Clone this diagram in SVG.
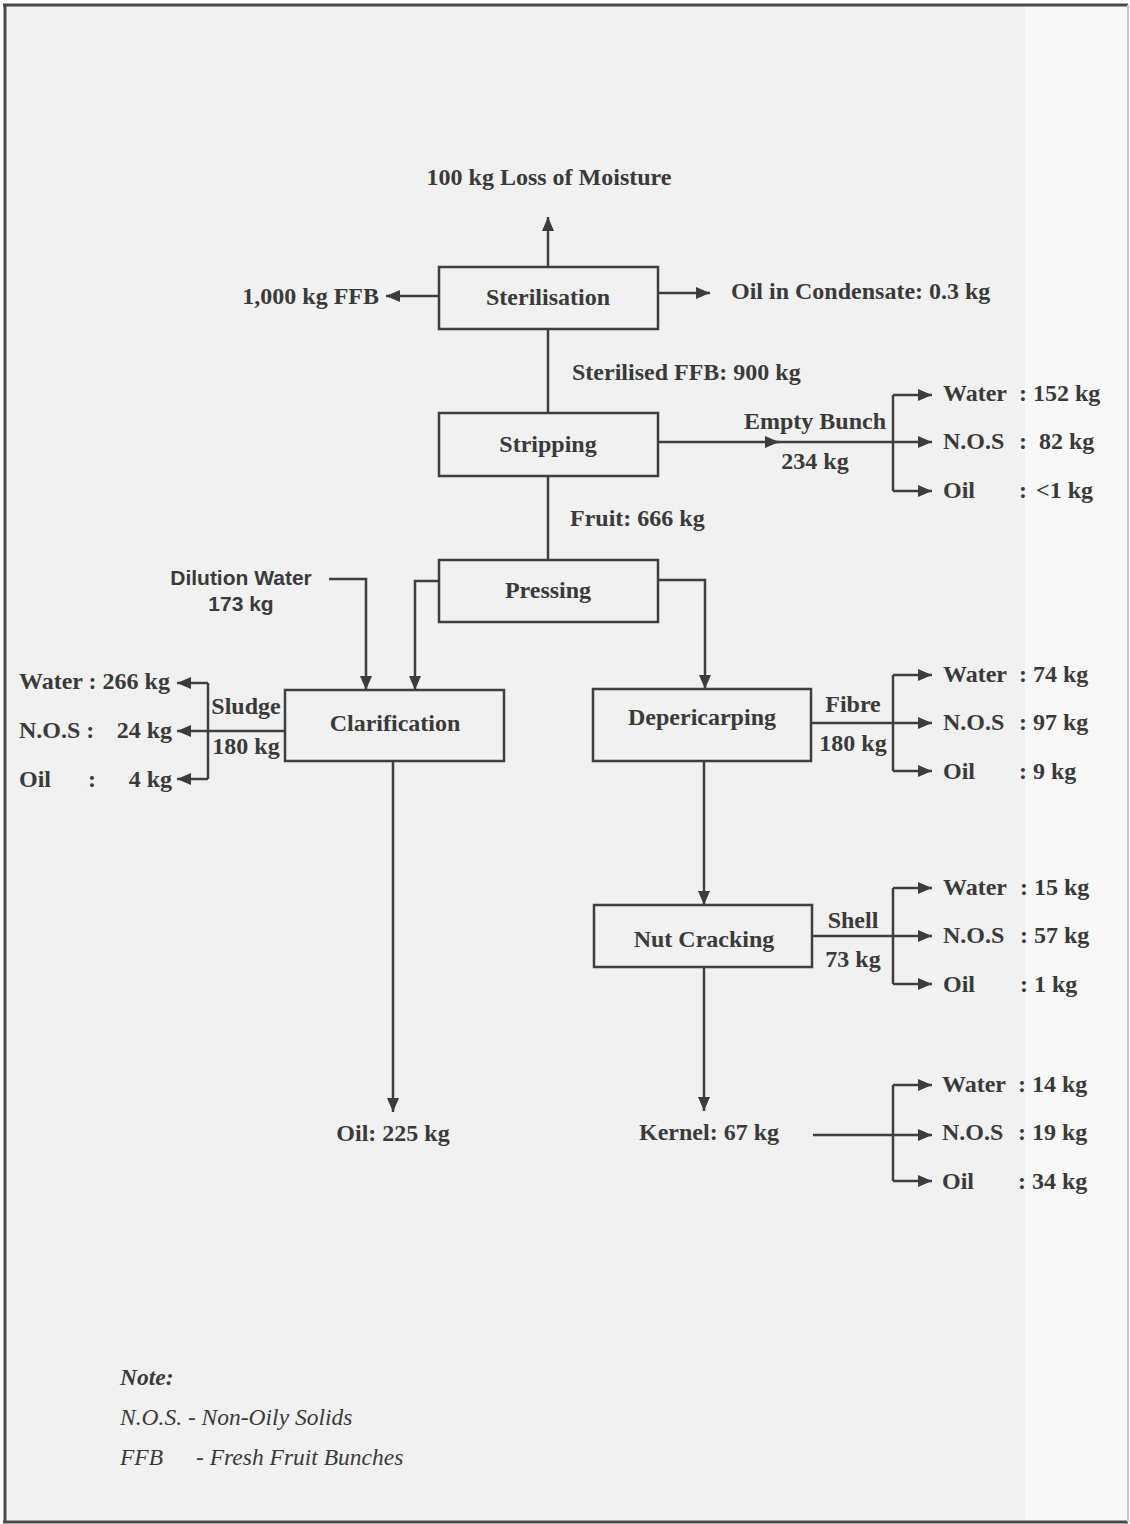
<svg xmlns="http://www.w3.org/2000/svg" width="1130" height="1524" viewBox="0 0 1130 1524">
<defs>
<marker id="ah" markerUnits="userSpaceOnUse" markerWidth="16" markerHeight="14" refX="14" refY="6" orient="auto">
<path d="M0,0 L14,6 L0,12 Z" fill="#3c3c3c"/>
</marker>
</defs>
<style>
.t{font-family:"Liberation Serif","Times New Roman",serif;font-weight:bold;font-size:24px;fill:#3a3a3a}
.s{font-family:"Liberation Sans",Arial,sans-serif;font-weight:bold;font-size:21px;fill:#3a3a3a}
.n{font-family:"Liberation Serif","Times New Roman",serif;font-style:italic;font-size:23.5px;fill:#3a3a3a}
.m{text-anchor:middle}
.e{text-anchor:end}
.box{fill:none;stroke:#3f3f3f;stroke-width:2.5}
.c{fill:none;stroke:#3f3f3f;stroke-width:2.5}
.a{marker-end:url(#ah)}
</style>
<rect x="0" y="0" width="1130" height="1524" fill="#ffffff"/>
<rect x="6" y="6" width="1121" height="1515" fill="#f1f1f1"/>
<rect x="1025" y="6" width="102" height="1515" fill="#f8f8f8"/>
<path d="M3,5 H1128 M5,5 V1522 M3,1522 H1128" fill="none" stroke="#4a4a4a" stroke-width="3"/>
<path d="M1128,5 V1522" fill="none" stroke="#c8c8c8" stroke-width="2"/>

<g id="connectors">
<path class="c a" d="M548,267 V217"/>
<path class="c a" d="M439,296 H386"/>
<path class="c a" d="M658,293 H710"/>
<path class="c" d="M548,329 V413"/>
<path class="c a" d="M658,442 H779"/>
<path class="c a" d="M770,442 H932"/>
<path class="c" d="M893,395 V491"/>
<path class="c a" d="M893,395 H932"/>
<path class="c a" d="M893,491 H932"/>
<path class="c" d="M548,476 V560"/>
<path class="c a" d="M439,581 H415 V690"/>
<path class="c a" d="M658,580 H705 V689"/>
<path class="c a" d="M329,579 H366 V690"/>
<path class="c a" d="M285,731 H177"/>
<path class="c" d="M208,683 V779"/>
<path class="c a" d="M208,683 H177"/>
<path class="c a" d="M208,779 H177"/>
<path class="c a" d="M393,761 V1112"/>
<path class="c a" d="M811,723 H932"/>
<path class="c" d="M893,675 V771"/>
<path class="c a" d="M893,675 H932"/>
<path class="c a" d="M893,771 H932"/>
<path class="c a" d="M704,761 V905"/>
<path class="c a" d="M812,936 H932"/>
<path class="c" d="M893,888 V984"/>
<path class="c a" d="M893,888 H932"/>
<path class="c a" d="M893,984 H932"/>
<path class="c a" d="M704,967 V1111"/>
<path class="c a" d="M813,1135 H932"/>
<path class="c" d="M893,1085 V1181"/>
<path class="c a" d="M893,1085 H932"/>
<path class="c a" d="M893,1181 H932"/>
</g>

<g id="sterilisation"><rect class="box" x="439" y="267" width="219" height="62"/><text class="t m" x="548" y="305">Sterilisation</text></g>
<g id="stripping"><rect class="box" x="439" y="413" width="219" height="63"/><text class="t m" x="548" y="452">Stripping</text></g>
<g id="pressing"><rect class="box" x="439" y="560" width="219" height="62"/><text class="t m" x="548" y="598">Pressing</text></g>
<g id="clarification"><rect class="box" x="285" y="690" width="219" height="71"/><text class="t m" x="395" y="731">Clarification</text></g>
<g id="depericarping"><rect class="box" x="593" y="689" width="218" height="72"/><text class="t m" x="702" y="725">Depericarping</text></g>
<g id="nutcracking"><rect class="box" x="594" y="905" width="218" height="62"/><text class="t m" x="704" y="947">Nut Cracking</text></g>

<g id="labels">
<text class="t m" x="549" y="185">100 kg Loss of Moisture</text>
<text class="t e" x="379" y="304">1,000 kg FFB</text>
<text class="t" x="731" y="299">Oil in Condensate: 0.3 kg</text>
<text class="t" x="572" y="380">Sterilised FFB: 900 kg</text>
<text class="t m" x="815" y="429">Empty Bunch</text>
<text class="t m" x="815" y="469">234 kg</text>
<text class="t" x="943" y="401">Water</text><text class="t" x="1019" y="401">: 152 kg</text>
<text class="t" x="943" y="449">N.O.S</text><text class="t" x="1019" y="449">:</text><text class="t" x="1039" y="449">82 kg</text>
<text class="t" x="943" y="498">Oil</text><text class="t" x="1019" y="498">:</text><text class="t" x="1036" y="498">&lt;1 kg</text>
<text class="t" x="570" y="526">Fruit: 666 kg</text>
<text class="s m" x="241" y="585">Dilution Water</text>
<text class="s m" x="241" y="611">173 kg</text>
<text class="t" x="19" y="689">Water : 266 kg</text>
<text class="t" x="19" y="738">N.O.S :</text><text class="t e" x="172" y="738">24 kg</text>
<text class="t" x="19" y="787">Oil</text><text class="t" x="88" y="787">:</text><text class="t e" x="172" y="787">4 kg</text>
<text class="t m" x="246" y="714">Sludge</text>
<text class="t m" x="246" y="754">180 kg</text>
<text class="t m" x="853" y="712">Fibre</text>
<text class="t m" x="853" y="751">180 kg</text>
<text class="t" x="943" y="682">Water</text><text class="t" x="1019" y="682">: 74 kg</text>
<text class="t" x="943" y="730">N.O.S</text><text class="t" x="1019" y="730">: 97 kg</text>
<text class="t" x="943" y="779">Oil</text><text class="t" x="1019" y="779">: 9 kg</text>
<text class="t m" x="853" y="928">Shell</text>
<text class="t m" x="853" y="967">73 kg</text>
<text class="t" x="943" y="895">Water</text><text class="t" x="1020" y="895">: 15 kg</text>
<text class="t" x="943" y="943">N.O.S</text><text class="t" x="1020" y="943">: 57 kg</text>
<text class="t" x="943" y="992">Oil</text><text class="t" x="1020" y="992">: 1 kg</text>
<text class="t m" x="393" y="1141">Oil: 225 kg</text>
<text class="t m" x="709" y="1140">Kernel: 67 kg</text>
<text class="t" x="942" y="1092">Water</text><text class="t" x="1018" y="1092">: 14 kg</text>
<text class="t" x="942" y="1140">N.O.S</text><text class="t" x="1018" y="1140">: 19 kg</text>
<text class="t" x="942" y="1189">Oil</text><text class="t" x="1018" y="1189">: 34 kg</text>
</g>

<g id="note">
<text class="n" x="120" y="1385" font-weight="bold">Note:</text>
<text class="n" x="120" y="1425">N.O.S. - Non-Oily Solids</text>
<text class="n" x="120" y="1465">FFB</text><text class="n" x="196" y="1465">- Fresh Fruit Bunches</text>
</g>
</svg>
